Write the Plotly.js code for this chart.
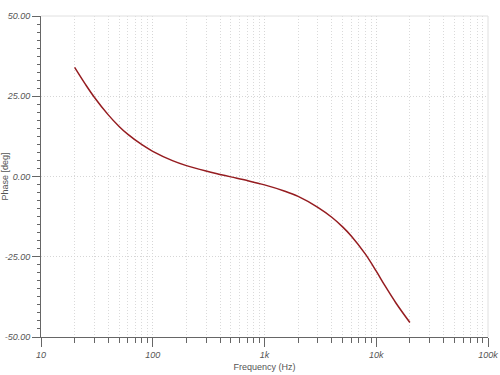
<!DOCTYPE html>
<html>
<head>
<meta charset="utf-8">
<script src="https://cdn.plot.ly/plotly-3.0.1.min.js"></script>
<style>html,body{margin:0;padding:0;background:#fff;}#chart{width:500px;height:375px;}</style>
</head>
<body>
<div id="chart"></div>
<script>
const frequency = [20, 25, 30, 40, 50, 60, 80, 100, 150, 200, 300, 400, 500, 700, 1000, 1500, 2000, 3000, 4000, 5000, 6000, 8000, 10000, 12000, 15000, 20000];
const phase = [34.0, 28.7, 24.7, 19.2, 15.6, 13.1, 9.9, 7.85, 4.95, 3.4, 1.7, 0.65, -0.12, -1.26, -2.6, -4.5, -6.2, -9.6, -12.7, -15.7, -18.6, -24.2, -29.5, -34.1, -39.4, -45.5];
const xTickVals = [10, 100, 1000, 10000, 100000];
const xTickText = ['10', '100', '1k', '10k', '100k'];
const yTickVals = [-50, -25, 0, 25, 50];
const yTickText = ['-50.00', '-25.00', '0.00', '25.00', '50.00'];

const xMinor = [];
for (let d = 10; d < 100000; d *= 10) for (let k = 2; k <= 9; k++) xMinor.push(d * k);

const tickFont = {family: 'Liberation Sans, Arial, sans-serif', size: 9, color: '#555', style: 'italic'};
const titleFont = {family: 'Liberation Sans, Arial, sans-serif', size: 9, color: '#555'};

Plotly.newPlot('chart', [{
  x: frequency, y: phase, type: 'scatter', mode: 'lines',
  line: {color: '#951c20', width: 1.5, shape: 'spline', smoothing: 1},
  hoverinfo: 'skip'
}], {
  width: 500, height: 375,
  margin: {l: 41, r: 12, t: 16, b: 38},
  paper_bgcolor: '#fff', plot_bgcolor: '#fff',
  showlegend: false,
  xaxis: {
    type: 'log', range: [1, 5],
    tickmode: 'array', tickvals: xTickVals, ticktext: xTickText,
    ticks: 'outside', ticklen: 9, tickcolor: '#666', tickwidth: 1,
    showline: true, linecolor: '#666', linewidth: 1,
    showgrid: true, gridcolor: '#d6d6d6', griddash: '1px,2px', gridwidth: 1,
    zeroline: false,
    tickfont: tickFont,
    minor: {tickmode: 'array', tickvals: xMinor, ticks: 'outside', ticklen: 5, tickcolor: '#666',
            showgrid: true, gridcolor: '#dadada', griddash: '1px,2px', gridwidth: 1},
    title: {text: 'Frequency (Hz)', font: titleFont, standoff: 4}
  },
  yaxis: {
    range: [-50, 50],
    tickmode: 'array', tickvals: yTickVals, ticktext: yTickText,
    ticks: 'outside', ticklen: 8, tickcolor: '#666', tickwidth: 1,
    showline: true, linecolor: '#666', linewidth: 1,
    showgrid: true, gridcolor: '#d6d6d6', griddash: '1px,2px', gridwidth: 1,
    zeroline: false,
    tickfont: tickFont,
    minor: {dtick: 2.5, ticks: 'outside', ticklen: 3, tickcolor: '#666', showgrid: false},
    title: {text: 'Phase [deg]', font: titleFont, standoff: 4}
  },
  shapes: [
    {type: 'line', xref: 'paper', yref: 'paper', x0: 0, x1: 1, y0: 1, y1: 1, line: {color: '#e0e0e0', width: 1}},
    {type: 'line', xref: 'paper', yref: 'paper', x0: 1, x1: 1, y0: 0, y1: 1, line: {color: '#e0e0e0', width: 1}}
  ]
}, {staticPlot: true});
</script>
</body>
</html>
